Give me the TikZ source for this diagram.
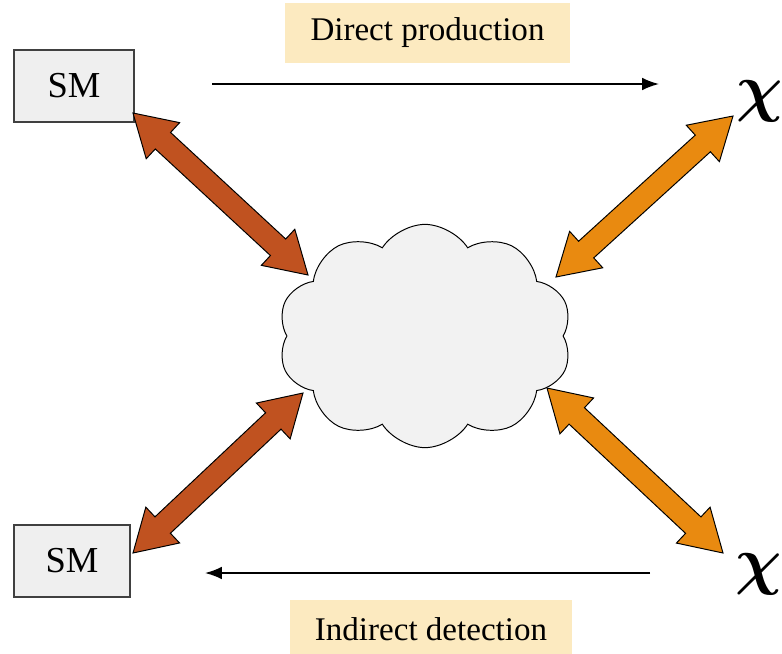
\documentclass[tikz,border=0pt]{standalone}
\usepackage{bm}
\usepackage{fontspec}
\setmainfont{Liberation Serif}
\usetikzlibrary{calc,shapes.symbols,arrows.meta}

\definecolor{smfill}{RGB}{239,239,239}
\definecolor{labelfill}{RGB}{252,234,192}
\definecolor{rustarrow}{RGB}{192,82,32}
\definecolor{amberarrow}{RGB}{233,138,16}
\definecolor{cloudfill}{RGB}{242,242,242}

\newcommand{\bigchi}{\scalebox{1.85}{$\bm{\chi}$}}

\tikzset{
  smbox/.style={draw=black!75, fill=smfill, line width=0.8pt, minimum width=3cm, minimum height=1.8cm, inner sep=0pt, font=\fontsize{26}{30}\selectfont},
  labelbox/.style={fill=labelfill, inner sep=0pt, minimum height=1.5cm, font=\fontsize{23.5}{28}\selectfont},
  thinarrow/.style={-{Latex[length=12pt,width=9pt]}, line width=1.2pt},
  darkmatter/.style={inner sep=0pt, font=\fontsize{24}{28}\selectfont},
  blob/.style={cloud, cloud puffs=10, cloud puff arc=115, aspect=1.32, draw=black, fill=cloudfill, line width=0.7pt, minimum width=7.35cm, minimum height=5.58cm, inner sep=0pt}
}

% block arrow with two heads: colour, from, to
\newcommand{\dblarrow}[3]{%
  \draw[fill=#1, line width=0.7pt, line join=miter] let \p1=(#2), \p2=(#3),
    \n1={atan2(\y2-\y1,\x2-\x1)}, \n2={veclen(\x2-\x1,\y2-\y1)} in
    (\p1) -- ($(\p1)+({\n1}:29pt)+({\n1+90}:17.5pt)$)
    -- ($(\p1)+({\n1}:29pt)+({\n1+90}:8pt)$)
    -- ($(\p1)+({\n1}:{\n2-29pt})+({\n1+90}:8pt)$)
    -- ($(\p1)+({\n1}:{\n2-29pt})+({\n1+90}:17.5pt)$)
    -- (\p2)
    -- ($(\p1)+({\n1}:{\n2-29pt})+({\n1-90}:17.5pt)$)
    -- ($(\p1)+({\n1}:{\n2-29pt})+({\n1-90}:8pt)$)
    -- ($(\p1)+({\n1}:29pt)+({\n1-90}:8pt)$)
    -- ($(\p1)+({\n1}:29pt)+({\n1-90}:17.5pt)$)
    -- cycle;
}

\begin{document}
\begin{tikzpicture}[x=0.025cm, y=-0.025cm]
  \useasboundingbox (0,0) rectangle (782,653);

  % labels on top and bottom
  \node[labelbox, minimum width=7.125cm] (direct) at (427.5,33) {Direct production};
  \node[labelbox, minimum width=7.05cm, minimum height=1.45cm, anchor=north] (indirect) at (431,600) {Indirect detection};

  % standard model boxes
  \node[smbox] (smtop) at (74,86) {SM};
  \node[smbox, minimum width=2.9cm] (smbot) at (72,561) {SM};

  % dark matter particles
  \node[darkmatter] (chitop) at (760,101) {\bigchi};
  \node[darkmatter] (chibot) at (759,574) {\bigchi};

  % thin arrows
  \coordinate (prodstart) at (212,84);
  \coordinate (prodend) at (659,84);
  \coordinate (detstart) at (650,573);
  \coordinate (detend) at (205,573);
  \draw[thinarrow] (prodstart) -- (prodend);
  \draw[thinarrow] (detstart) -- (detend);

  % arrow ends near the cloud
  \coordinate (cloudnw) at (308,275);
  \coordinate (cloudsw) at (303,393);
  \coordinate (cloudne) at (556,277);
  \coordinate (cloudse) at (547,388);
  \coordinate (smtopend) at (133,113);
  \coordinate (smbotend) at (133,553);
  \coordinate (chitopend) at (733,116);
  \coordinate (chibotend) at (723,553);

  \dblarrow{rustarrow}{smtopend}{cloudnw}
  \dblarrow{rustarrow}{smbotend}{cloudsw}
  \dblarrow{amberarrow}{chitopend}{cloudne}
  \dblarrow{amberarrow}{chibotend}{cloudse}

  % the interaction
  \node[blob] (cloud) at (425,336) {};
\end{tikzpicture}
\end{document}
